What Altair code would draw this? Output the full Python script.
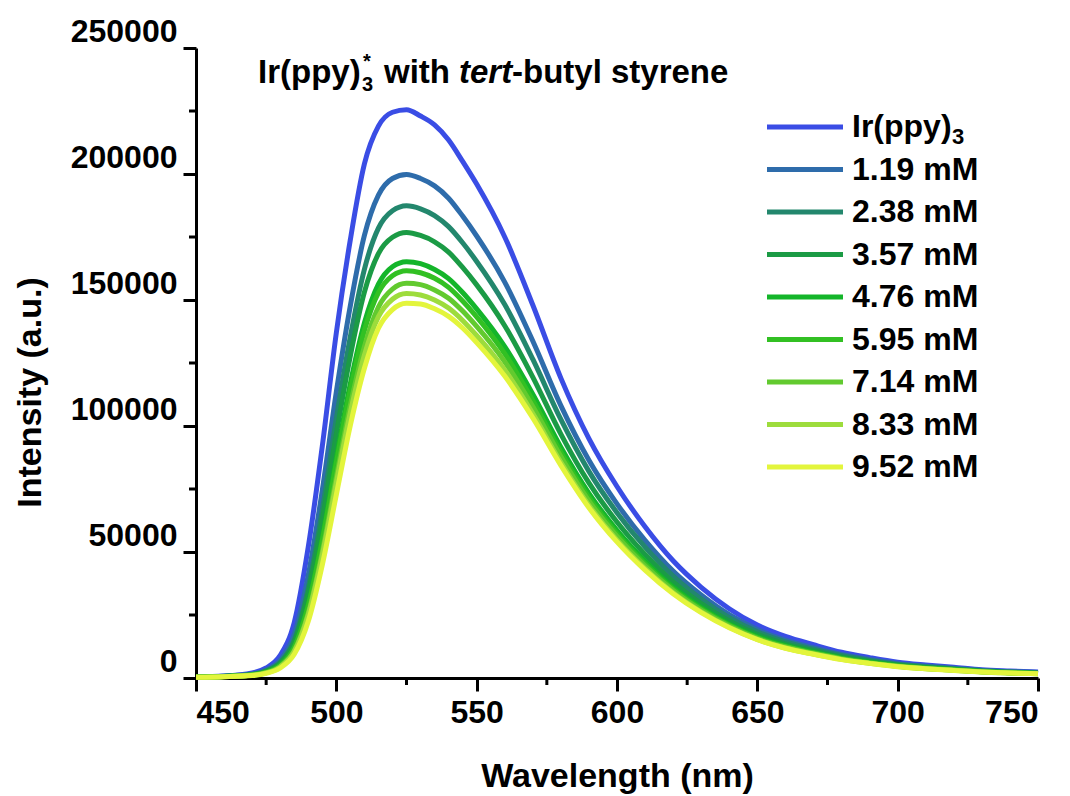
import altair as alt
import pandas as pd

wavelength = [450, 460, 470, 475, 480, 485, 490, 495, 500, 505, 510, 515, 520, 525, 530, 535, 540, 545, 550,
              560, 570, 580, 590, 600, 610, 620, 630, 640, 650, 660, 670, 680, 690, 700, 710, 720, 730, 740, 750]

ir_ppy3 = [500, 800, 2000, 4000, 9000, 22000, 52000, 92000, 137000, 174000, 204000, 219000, 224500, 225500, 223000,
           219500, 213500, 205000, 196000, 175000, 148000, 119000, 95000, 76000, 60000, 46500, 36000, 27500, 21000,
           16500, 13200, 10200, 8100, 6300, 5200, 4300, 3300, 2800, 2400]
mM_1_19 = [440, 700, 1550, 3190, 7100, 17200, 40800, 74500, 113500, 147800, 175600, 191600, 198200, 199800, 198200,
           195300, 190400, 183300, 175400, 157100, 133700, 108100, 86400, 69100, 54600, 42400, 32900, 25100, 19200,
           15000, 12000, 9300, 7400, 5700, 4700, 3900, 3000, 2500, 2200]
mM_2_38 = [420, 670, 1410, 2830, 6240, 15060, 35800, 66600, 102800, 135500, 162200, 178500, 185400, 187400, 186200,
           183500, 179100, 172700, 165300, 148200, 126500, 102600, 82000, 65600, 51900, 40400, 31300, 23900, 18300,
           14300, 11400, 8900, 7000, 5500, 4500, 3700, 2900, 2400, 2000]
mM_3_57 = [390, 630, 1330, 2670, 5890, 14200, 33800, 62800, 96900, 127900, 153100, 168400, 174900, 176800, 175600,
           173100, 169000, 162900, 156000, 139800, 119400, 96800, 77400, 61900, 49000, 38100, 29500, 22600, 17300,
           13500, 10800, 8400, 6600, 5200, 4200, 3500, 2700, 2300, 1900]
mM_4_76 = [370, 590, 1170, 2350, 5140, 12300, 29400, 55800, 87300, 116900, 140900, 156300, 163200, 165200, 164400,
           162100, 158500, 153000, 146500, 131500, 112600, 91600, 73300, 58600, 46400, 36100, 28000, 21400, 16400,
           12800, 10200, 7900, 6300, 4900, 4000, 3300, 2600, 2100, 1800]
mM_5_95 = [360, 570, 1150, 2300, 5030, 12100, 28700, 54600, 85400, 114300, 137900, 152900, 159600, 161600, 160800,
           158600, 155000, 149600, 143300, 128700, 110100, 89600, 71700, 57300, 45400, 35300, 27400, 21000, 16000,
           12500, 10000, 7800, 6100, 4800, 3900, 3200, 2500, 2100, 1800]
mM_7_14 = [350, 560, 1080, 2090, 4520, 10800, 25800, 50100, 79700, 108200, 131500, 147200, 154300, 156600, 156100,
           154000, 150700, 145600, 139500, 125500, 107700, 87900, 70300, 56200, 44500, 34700, 26900, 20600, 15700,
           12300, 9800, 7600, 6000, 4700, 3800, 3100, 2500, 2000, 1700]
mM_8_33 = [340, 540, 1050, 2030, 4410, 10500, 25100, 48800, 77600, 105400, 128100, 143400, 150300, 152600, 152000,
           150000, 146800, 141900, 135900, 122200, 104900, 85600, 68500, 54700, 43400, 33800, 26200, 20100, 15300,
           11900, 9500, 7400, 5800, 4600, 3700, 3100, 2400, 2000, 1700]
mM_9_52 = [330, 530, 990, 1850, 3970, 9390, 22500, 44900, 72700, 100300, 122900, 138800, 146200, 148700, 148400,
           146500, 143500, 138900, 133100, 119800, 103200, 84400, 67600, 54000, 42800, 33400, 25900, 19900, 15200,
           11800, 9400, 7300, 5800, 4500, 3700, 3000, 2400, 2000, 1700]

series_names = ["Ir(ppy)3", "1.19 mM", "2.38 mM", "3.57 mM", "4.76 mM", "5.95 mM", "7.14 mM", "8.33 mM", "9.52 mM"]
legend_texts = ["Ir(ppy)", "1.19 mM", "2.38 mM", "3.57 mM", "4.76 mM", "5.95 mM", "7.14 mM", "8.33 mM", "9.52 mM"]
series_values = [ir_ppy3, mM_1_19, mM_2_38, mM_3_57, mM_4_76, mM_5_95, mM_7_14, mM_8_33, mM_9_52]
series_colors = ["#3A4DE5", "#2E6CAB", "#23876D", "#1B9B45", "#14B52A", "#32C023", "#62CA2F", "#9DDC3C", "#E3F53C"]

x_ticks = [450, 500, 550, 600, 650, 700, 750]
y_ticks = [0, 50000, 100000, 150000, 200000, 250000]
x_minor = [475, 525, 575, 625, 675, 725]
y_minor = [25000, 75000, 125000, 175000, 225000]

rows = []
for order, (name, vals) in enumerate(zip(series_names, series_values)):
    for w, v in zip(wavelength, vals):
        rows.append({"series": name, "order": order, "wavelength": w, "intensity": v})
df = pd.DataFrame(rows)
legend_df = pd.DataFrame({"series": series_names, "label": legend_texts})

FONT = "Liberation Sans"
W, H = 842, 630

xscale = alt.Scale(domain=[450, 750], nice=False, zero=False)
yscale = alt.Scale(domain=[0, 250000], nice=False)
cscale = alt.Scale(domain=series_names, range=series_colors)
lscale = alt.Scale(type="point", domain=series_names, range=[79, 419], padding=0)

lines = alt.Chart(df).mark_line(strokeWidth=5, interpolate="monotone").encode(
    x=alt.X("wavelength:Q", scale=xscale,
            axis=alt.Axis(values=x_ticks, title="Wavelength (nm)", format="d",
                          titleY=108, titleBaseline="alphabetic")),
    y=alt.Y("intensity:Q", scale=yscale,
            axis=alt.Axis(values=y_ticks, title="Intensity (a.u.)", format="d",
                          labelOffset=-17, titleX=-166, titleY=344, titleAngle=270,
                          titleBaseline="middle", titleAlign="center")),
    color=alt.Color("series:N", scale=cscale, legend=None),
    detail="order:O",
)

xminor = alt.Chart(pd.DataFrame({"wavelength": x_minor})).mark_rule(color="black", strokeWidth=3).encode(
    x=alt.X("wavelength:Q", scale=xscale), y=alt.value(H), y2=alt.value(H + 7))
yminor = alt.Chart(pd.DataFrame({"intensity": y_minor})).mark_rule(color="black", strokeWidth=3).encode(
    y=alt.Y("intensity:Q", scale=yscale, axis=None), x=alt.value(0), x2=alt.value(-7))

legend_lines = alt.Chart(legend_df).mark_rule(strokeWidth=5).encode(
    y=alt.Y("series:N", scale=lscale, axis=None),
    x=alt.value(571), x2=alt.value(647),
    color=alt.Color("series:N", scale=cscale, legend=None),
)
legend_labels = alt.Chart(legend_df).mark_text(
    font=FONT, fontSize=32, fontWeight="bold", align="left", baseline="middle", color="black").encode(
    y=alt.Y("series:N", scale=lscale, axis=None), x=alt.value(656), text="label:N")
legend_sub = alt.Chart(legend_df).transform_filter(alt.datum.series == "Ir(ppy)3").mark_text(
    font=FONT, fontSize=22, fontWeight="bold", align="left", baseline="middle", color="black", dy=10).encode(
    y=alt.Y("series:N", scale=lscale, axis=None), x=alt.value(756), text=alt.value("3"))

def piece(txt, x, y, size=33, style="normal"):
    return alt.Chart(pd.DataFrame({"t": [txt]})).mark_text(
        font=FONT, fontSize=size, fontWeight="bold", fontStyle=style, align="left",
        baseline="alphabetic", color="black").encode(text="t:N", x=alt.value(x), y=alt.value(y))

title_parts = [
    piece("Ir(ppy)", 62, 35),
    piece("3", 166, 43, size=20),
    piece("*", 167, 20, size=20),
    piece("with", 188, 35),
    piece("tert", 263, 35, style="italic"),
    piece("-butyl styrene", 316, 35),
]

chart = alt.layer(lines, xminor, yminor, legend_lines, legend_labels, legend_sub, *title_parts).resolve_scale(
    y="independent"
).properties(
    width=W, height=H, autosize="none",
    padding={"left": 188, "top": 40, "right": 24, "bottom": 118},
).configure_view(stroke=None).configure_axis(
    labelFont=FONT, labelFontSize=32, labelFontWeight="bold", labelColor="black",
    titleFont=FONT, titleFontSize=34, titleFontWeight="bold", titleColor="black",
    tickSize=13, tickWidth=3, tickColor="black", domainColor="black", domainWidth=3,
    labelPadding=6, grid=False,
)

chart.save("out.html", embed_options={"renderer": "svg", "actions": False})
